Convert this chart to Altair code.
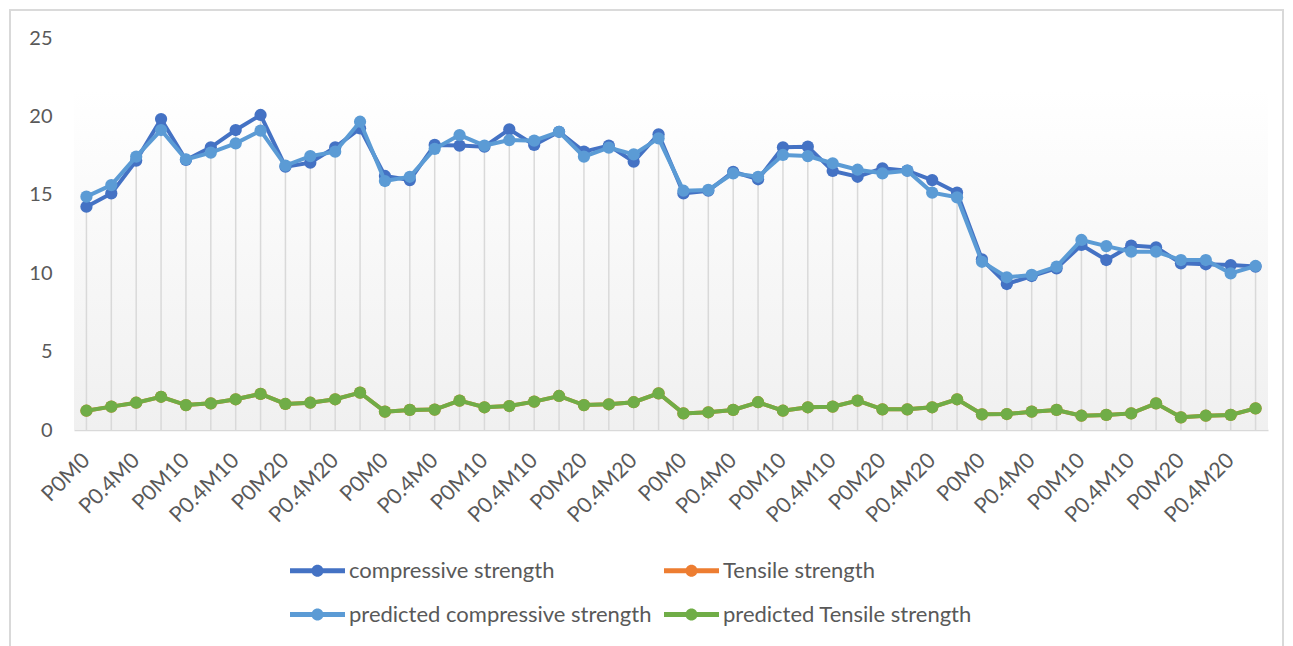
import json
import altair as alt
import pandas as pd

groups = ["P0M0", "P0.2M0", "P0.4M0", "P0.6M0", "P0M10", "P0.2M10",
          "P0.4M10", "P0.6M10", "P0M20", "P0.2M20", "P0.4M20", "P0.6M20"]
categories = groups * 4

compressive = [14.24, 15.09, 17.18, 19.83, 17.22, 18.03, 19.13, 20.09, 16.79, 17.05, 18.03, 19.24,
               16.20, 15.94, 18.18, 18.14, 18.07, 19.17, 18.18, 19.02, 17.75, 18.14, 17.11, 18.86,
               15.09, 15.26, 16.47, 15.99, 18.03, 18.07, 16.52, 16.15, 16.69, 16.54, 15.94, 15.14,
               10.88, 9.31, 9.82, 10.31, 11.80, 10.84, 11.76, 11.65, 10.63, 10.57, 10.52, 10.42]
pred_compressive = [14.88, 15.62, 17.43, 19.13, 17.26, 17.69, 18.28, 19.09, 16.86, 17.47, 17.75, 19.66,
                    15.88, 16.15, 17.93, 18.81, 18.14, 18.49, 18.45, 19.02, 17.43, 18.01, 17.58, 18.60,
                    15.26, 15.31, 16.37, 16.15, 17.54, 17.47, 17.01, 16.60, 16.37, 16.54, 15.14, 14.84,
                    10.73, 9.74, 9.89, 10.42, 12.12, 11.73, 11.37, 11.37, 10.84, 10.84, 9.99, 10.46]
pred_tensile = [1.23, 1.49, 1.74, 2.12, 1.59, 1.70, 1.96, 2.30, 1.66, 1.74, 1.96, 2.38,
                1.17, 1.28, 1.30, 1.87, 1.45, 1.53, 1.81, 2.17, 1.59, 1.64, 1.77, 2.34,
                1.06, 1.13, 1.28, 1.77, 1.23, 1.45, 1.49, 1.87, 1.32, 1.32, 1.45, 1.96,
                1.00, 1.02, 1.17, 1.28, 0.91, 0.96, 1.06, 1.70, 0.81, 0.91, 0.96, 1.38]
tensile = list(pred_tensile)  # hidden beneath the predicted series in the picture

series_names = ["compressive strength", "Tensile strength",
                "predicted compressive strength", "predicted Tensile strength"]
series_values = [compressive, tensile, pred_compressive, pred_tensile]
series_colors = ["#4472C4", "#ED7D31", "#5B9BD5", "#70AD47"]

rows = []
for name, vals in zip(series_names, series_values):
    for i, v in enumerate(vals):
        rows.append({"idx": i, "cat": categories[i], "series": name, "value": v})
df = pd.DataFrame(rows)

drop = pd.DataFrame({"idx": list(range(len(categories))),
                     "value": [max(a, b, c, d) for a, b, c, d in zip(*series_values)]})

W, H = 1194, 392
FONT = "Lato"
GREY = "#595959"

label_expr = ("datum.value % 2 == 0 ? " + json.dumps(categories) + "[datum.value] : ''")

xenc = alt.X("idx:O", scale=alt.Scale(type="point", padding=0.5),
             axis=alt.Axis(title=None, labelExpr=label_expr, labelAngle=-45, labelAlign="right",
                           labelBaseline="middle", labelFontSize=21.5, labelColor=GREY,
                           labelPadding=27, ticks=False, domain=True, domainColor="#d9d9d9",
                           domainWidth=1.5, grid=False, labelFont=FONT, labelOverlap=False))
yscale = alt.Scale(domain=[0, 25], nice=False, zero=True)
yaxis = alt.Axis(title=None, values=[0, 5, 10, 15, 20, 25], domain=False, ticks=False,
                 grid=False, labelFontSize=20, labelColor=GREY, labelPadding=22,
                 labelFont=FONT)
yenc = alt.Y("value:Q", scale=yscale, axis=yaxis)

sym = ("M-1,-0.09 L1,-0.09 L1,0.09 L-1,0.09 Z "
       "M0.22,0 A0.22,0.22 0 1,1 -0.22,0 A0.22,0.22 0 1,1 0.22,0 Z")
legend = alt.Legend(title=None, orient="none", legendX=216, legendY=505,
                    direction="horizontal", columns=2, columnPadding=12,
                    rowPadding=5, symbolType=sym, symbolSize=3025,
                    symbolStrokeWidth=0, labelFontSize=22, labelColor=GREY,
                    labelFont=FONT, labelOffset=4, labelLimit=500)
cenc = alt.Color("series:N", scale=alt.Scale(domain=series_names, range=series_colors),
                 legend=legend)

bg = alt.Chart(drop).mark_rect(
    color=alt.LinearGradient(gradient="linear", x1=0, x2=0, y1=0, y2=1,
                             stops=[alt.GradientStop(color="#ffffff", offset=0),
                                    alt.GradientStop(color="#f0f0f0", offset=1)])
).encode(x=alt.value(0), x2=alt.value(W), y=alt.value(52), y2=alt.value(H))

border = alt.Chart(drop).mark_rect(filled=False, stroke="#d9d9d9", strokeWidth=1.2).encode(
    x=alt.value(-64), x2=alt.value(1209), y=alt.value(-28), y2=alt.value(640))

rules = alt.Chart(drop).mark_rule(color="#d9d9d9", strokeWidth=1.5).encode(
    x=xenc, y=yenc, y2=alt.datum(0))

layers = [bg, border, rules]
for k, name in enumerate(series_names):
    base = alt.Chart(df).transform_filter(alt.datum.series == name)
    line = base.mark_line(strokeWidth=4).encode(x=xenc, y=yenc, color=cenc)
    pts = base.mark_circle(size=150, opacity=1).encode(x=xenc, y=yenc, color=cenc)
    layers += [line, pts]

chart = alt.layer(*layers).properties(
    width=W, height=H,
    background="white",
    autosize=alt.AutoSizeParams(type="none"),
    padding={"left": 74, "top": 38, "right": 25, "bottom": 216},
).configure_view(stroke=None)

chart.save("out.html", embed_options={"renderer": "svg", "actions": False})
